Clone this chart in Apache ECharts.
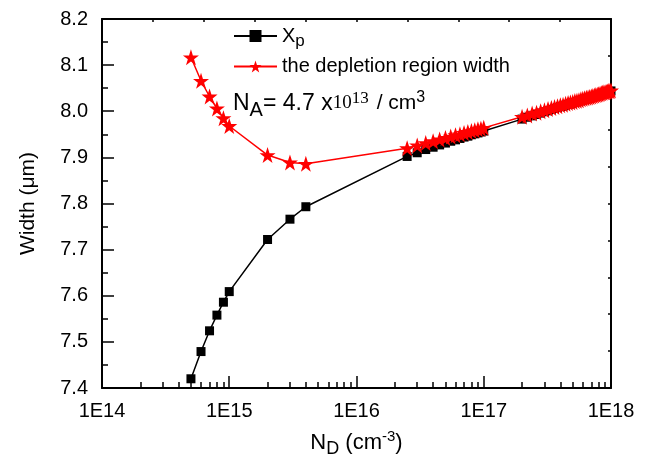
<!DOCTYPE html>
<html>
<head>
<meta charset="utf-8">
<script src="https://cdn.jsdelivr.net/npm/echarts@6/dist/echarts.min.js"></script>
<style>
    html, body { margin: 0; padding: 0; background: #fff; }
    #mychart { width: 651px; height: 467px; }
</style>
</head>
<body>
<div id="mychart"></div>
<script>
//横轴 N_D (cm^-3)
var ndLow = [5e14, 6e14, 7e14, 8e14, 9e14, 1e15, 2e15, 3e15, 4e15];
var ndMid = [2.5e16, 3e16, 3.5e16, 4e16, 4.5e16, 5e16, 5.5e16, 6e16, 6.5e16, 7e16, 7.5e16, 8e16, 8.5e16, 9e16, 9.5e16, 1e17];
var ndHigh = [2e17, 2.2e17, 2.4e17, 2.6e17, 2.8e17, 3e17, 3.2e17, 3.4e17, 3.6e17, 3.8e17,
    4e17, 4.2e17, 4.4e17, 4.6e17, 4.8e17, 5e17, 5.2e17, 5.4e17, 5.6e17, 5.8e17,
    6e17, 6.2e17, 6.4e17, 6.6e17, 6.8e17, 7e17, 7.2e17, 7.4e17, 7.6e17, 7.8e17,
    8e17, 8.2e17, 8.4e17, 8.6e17, 8.8e17, 9e17, 9.2e17, 9.4e17, 9.6e17, 9.8e17, 1e18];

//Xp (um)
var xpLow = [7.420, 7.479, 7.524, 7.558, 7.586, 7.609, 7.722, 7.766, 7.793];
var xpMid = [7.902, 7.910, 7.917, 7.922, 7.927, 7.931, 7.935, 7.938, 7.941, 7.944, 7.946, 7.949, 7.951, 7.953, 7.955, 7.957];
var xpHigh = [7.983, 7.987, 7.990, 7.993, 7.996, 7.999, 8.001, 8.004, 8.006, 8.008,
    8.010, 8.011, 8.013, 8.015, 8.016, 8.018, 8.019, 8.021, 8.022, 8.023,
    8.025, 8.026, 8.027, 8.028, 8.029, 8.030, 8.031, 8.032, 8.033, 8.034,
    8.035, 8.036, 8.037, 8.038, 8.039, 8.040, 8.041, 8.041, 8.042, 8.043, 8.044];

//耗尽区宽度 (um)
var wLow = [8.117, 8.066, 8.032, 8.006, 7.985, 7.968, 7.905, 7.889, 7.886];
var wMid = [7.920, 7.926, 7.931, 7.935, 7.939, 7.942, 7.945, 7.948, 7.950, 7.953, 7.955, 7.957, 7.959, 7.961, 7.962, 7.964];
var wHigh = [7.988, 7.991, 7.995, 7.997, 8.000, 8.002, 8.005, 8.007, 8.009, 8.011,
    8.013, 8.014, 8.016, 8.018, 8.019, 8.020, 8.022, 8.023, 8.024, 8.026,
    8.027, 8.028, 8.029, 8.030, 8.031, 8.032, 8.033, 8.034, 8.035, 8.036,
    8.037, 8.038, 8.039, 8.040, 8.041, 8.041, 8.042, 8.043, 8.044, 8.044, 8.045];

var xDecades = [14, 15, 16, 17, 18];

var FONT = '"Liberation Sans", Arial, sans-serif';
var SERIF = '"Liberation Serif", "Times New Roman", serif';
var STAR = 'path://M50,0 L61.8,35.3 L99,35.3 L69,57.3 L80.4,92.7 L50,70.8 L19.6,92.7 L31,57.3 L1,35.3 L38.2,35.3 Z';

function toPairs(xs, ys) {
    var arr = [];
    for (var i = 0; i < xs.length; i++) {
        arr.push([xs[i], ys[i]]);
    }
    return arr;
}

var nd = ndLow.concat(ndMid, ndHigh);
var xpData = toPairs(nd, xpLow.concat(xpMid, xpHigh));
var wData = toPairs(nd, wLow.concat(wMid, wHigh));

//次刻度 2..9 x 10^n (log10 位置)
var minorTicks = [];
for (var d = 0; d < xDecades.length - 1; d++) {
    for (var k = 2; k <= 9; k++) {
        minorTicks.push(xDecades[d] + Math.log10(k));
    }
}

var tickStyle = { color: '#000', width: 1.5 };

var myChart = echarts.init(document.getElementById('mychart'));
myChart.setOption({
    animation: false,
    backgroundColor: '#fff',
    grid: {
        left: 102,
        right: 40,
        top: 19,
        bottom: 79
    },
    legend: {
        orient: 'vertical',
        left: 228,
        top: 21,
        itemWidth: 43,
        itemHeight: 15,
        itemGap: 7,
        data: ['Xp', 'the depletion region width'],
        formatter: function (name) {
            return name == 'Xp' ? 'X{sub|p}' : name;
        },
        textStyle: {
            fontFamily: FONT,
            fontSize: 20,
            color: '#000',
            rich: {
                sub: { fontFamily: FONT, fontSize: 17, color: '#000', padding: [10, 0, 0, 0] }
            }
        }
    },
    xAxis: [
        {
            type: 'log',
            logBase: 10,
            min: 1e14,
            max: 1e18,
            position: 'bottom',
            name: 'N{sub|D} (cm{sup|-3})',
            nameLocation: 'middle',
            nameGap: 40,
            nameTextStyle: {
                fontFamily: FONT,
                fontSize: 22,
                color: '#000',
                rich: {
                    sub: { fontFamily: FONT, fontSize: 18, color: '#000', padding: [12, 0, 0, 0] },
                    sup: { fontFamily: FONT, fontSize: 15, color: '#000', padding: [0, 0, 12, 0] }
                }
            },
            axisLine: { onZero: false, lineStyle: { color: '#000', width: 2 } },
            axisTick: { show: true, inside: true, length: 12, lineStyle: tickStyle },
            axisLabel: {
                margin: 13,
                fontFamily: FONT,
                fontSize: 20,
                color: '#000',
                formatter: function (v) {
                    return '1E' + Math.round(Math.log10(v));
                }
            },
            splitLine: { show: false }
        },
        {
            type: 'value',
            min: 14,
            max: 18,
            position: 'bottom',
            axisLine: { show: false, onZero: false },
            axisTick: { show: true, inside: true, length: 6, customValues: minorTicks, lineStyle: tickStyle },
            axisLabel: { show: false },
            splitLine: { show: false }
        },
        {
            type: 'value',
            min: 0,
            max: 10,
            interval: 1,
            position: 'top',
            axisLine: { show: true, onZero: false, lineStyle: { color: '#000', width: 2 } },
            axisTick: { show: true, inside: true, length: 3, lineStyle: tickStyle },
            axisLabel: { show: false },
            splitLine: { show: false }
        }
    ],
    yAxis: [
        {
            type: 'value',
            min: 7.4,
            max: 8.2,
            interval: 0.1,
            name: 'Width (\u03bcm)',
            nameLocation: 'middle',
            nameGap: 63,
            nameRotate: 90,
            nameTextStyle: { fontFamily: FONT, fontSize: 21, color: '#000' },
            axisLine: { show: true, onZero: false, lineStyle: { color: '#000', width: 2 } },
            axisTick: { show: true, inside: true, length: 12, lineStyle: tickStyle },
            minorTick: { show: true, splitNumber: 2, length: 6, lineStyle: tickStyle },
            axisLabel: {
                margin: 14,
                fontFamily: FONT,
                fontSize: 20,
                color: '#000',
                formatter: function (v) {
                    return v.toFixed(1);
                }
            },
            splitLine: { show: false }
        },
        {
            type: 'value',
            min: 0,
            max: 10,
            interval: 1,
            position: 'right',
            axisLine: { show: true, onZero: false, lineStyle: { color: '#000', width: 2 } },
            axisTick: { show: true, inside: true, length: 3, lineStyle: tickStyle },
            axisLabel: { show: false },
            splitLine: { show: false }
        }
    ],
    graphic: [
        {
            type: 'text',
            left: 233,
            top: 90,
            style: {
                text: '{n|N}{s|A}{n|= 4.7 x}{t|10}{tp|13}{m|/ cm}{p|3}',
                rich: {
                    n: { fontFamily: FONT, fontSize: 23, fill: '#000' },
                    m: { fontFamily: FONT, fontSize: 21, fill: '#000' },
                    s: { fontFamily: FONT, fontSize: 20, fill: '#000', padding: [13, 0, 0, 0] },
                    t: { fontFamily: SERIF, fontSize: 19, fill: '#000' },
                    tp: { fontFamily: SERIF, fontSize: 17, fill: '#000', padding: [0, 8, 10, 0] },
                    p: { fontFamily: FONT, fontSize: 16, fill: '#000', padding: [0, 0, 11, 0] }
                }
            }
        }
    ],
    series: [
        {
            name: 'Xp',
            type: 'line',
            xAxisIndex: 0,
            yAxisIndex: 0,
            data: xpData,
            symbol: 'rect',
            symbolSize: 9,
            showAllSymbol: true,
            color: '#000',
            lineStyle: { color: '#000', width: 1.5 },
            itemStyle: { color: '#000' }
        },
        {
            name: 'the depletion region width',
            type: 'line',
            xAxisIndex: 0,
            yAxisIndex: 0,
            data: wData,
            symbol: STAR,
            symbolSize: 16,
            showAllSymbol: true,
            color: '#ff0000',
            lineStyle: { color: '#ff0000', width: 1.5 },
            itemStyle: { color: '#ff0000' }
        }
    ]
});
</script>
</body>
</html>
